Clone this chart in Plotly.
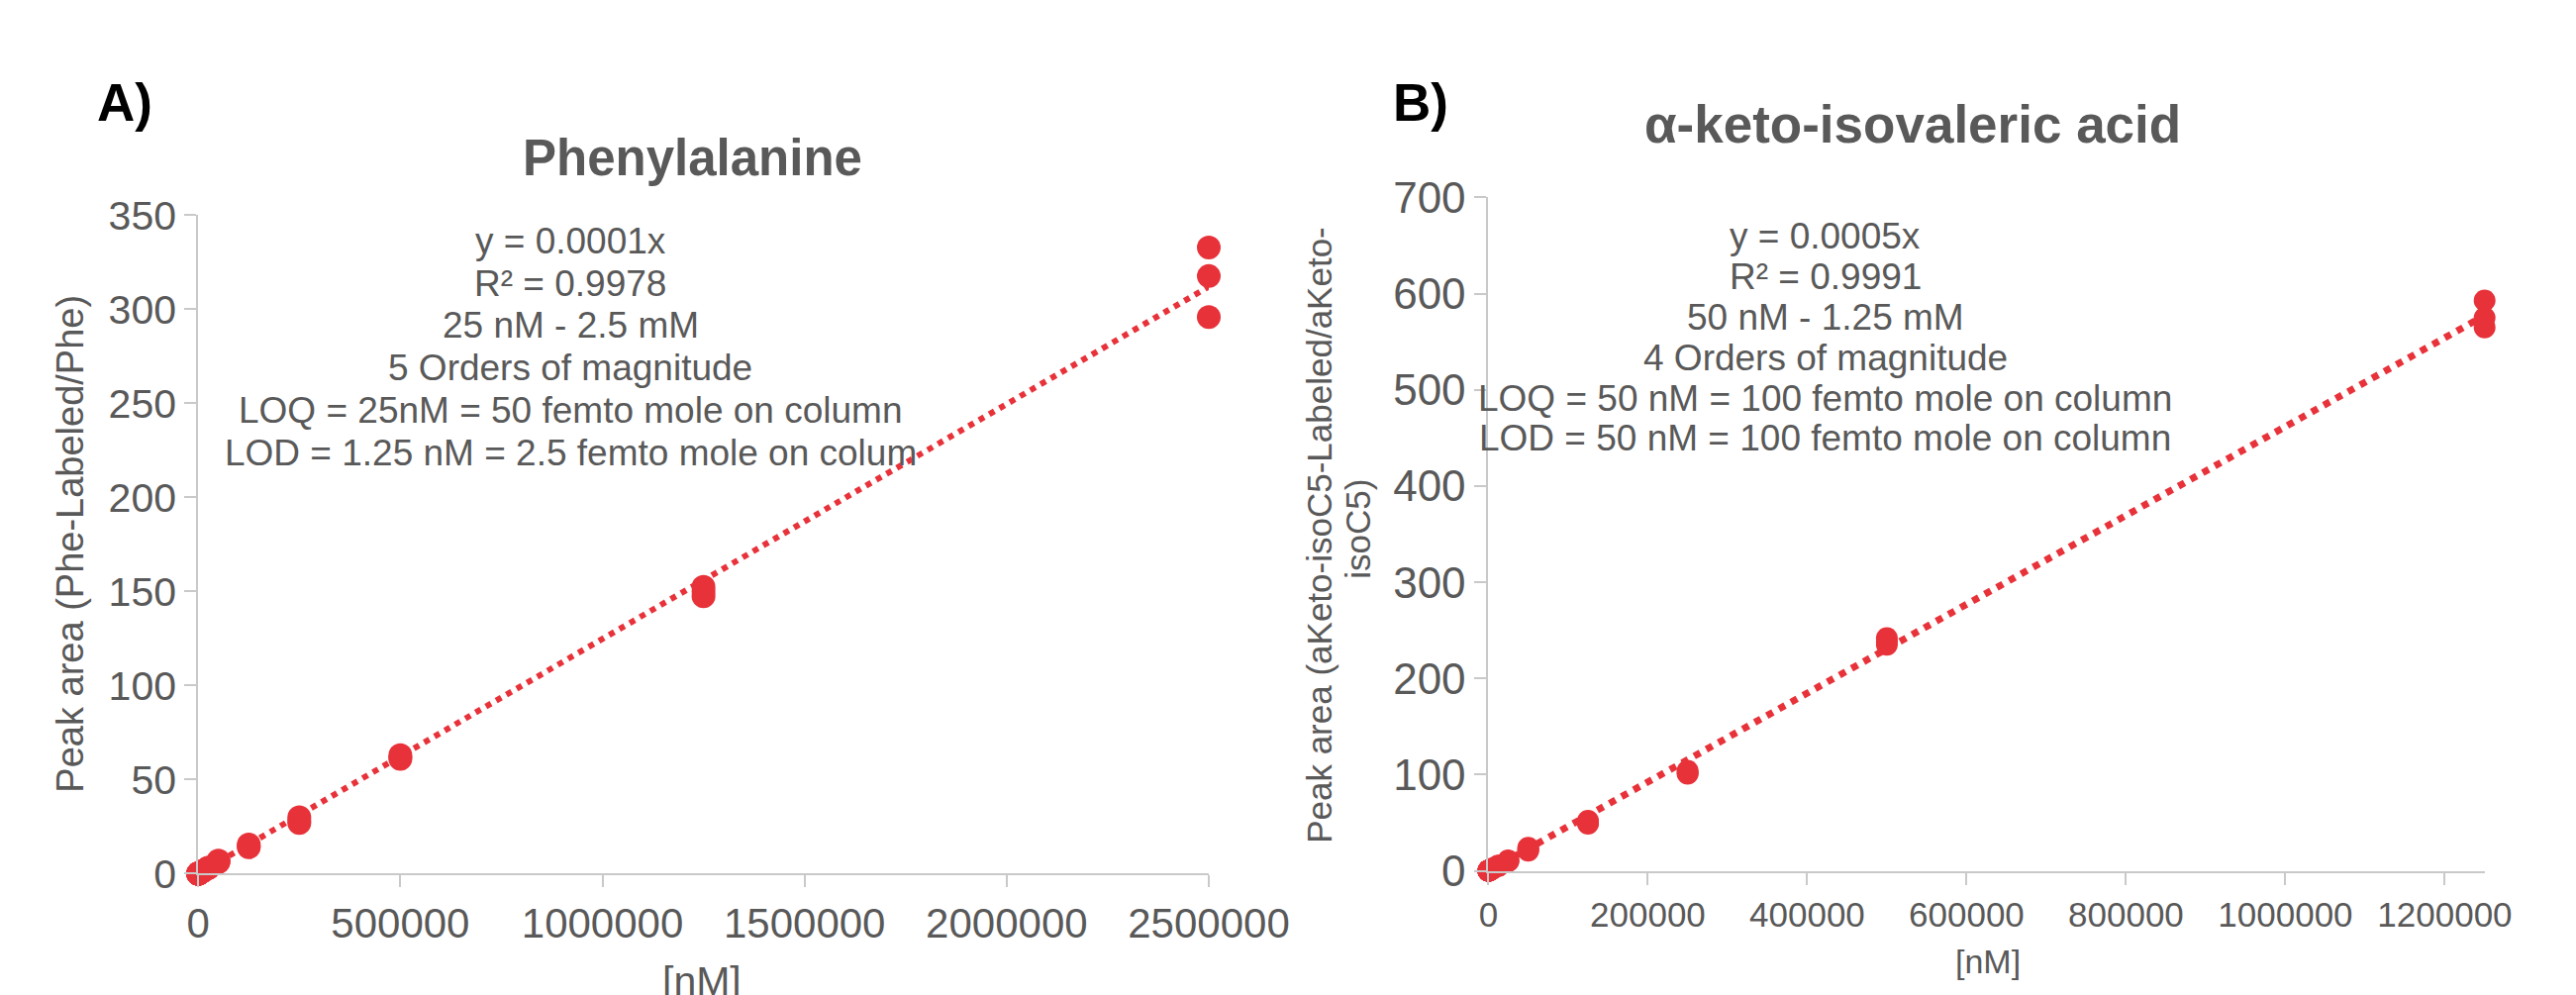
import plotly.graph_objects as go

W, H = 2602, 1005

# ---------------- data ----------------
# Panel A: Phenylalanine (nM vs peak-area ratio, three replicates)
phe_conc = [25, 50, 125, 250, 500, 1250, 2500, 5000, 12500, 25000,
            50000, 125000, 250000, 500000, 1250000, 2500000]
phe_rep1 = [0.003, 0.006, 0.016, 0.031, 0.063, 0.16, 0.32, 0.64, 1.6, 3.2,
            7.0, 15.5, 30.0, 63.0, 152.5, 332.8]
phe_rep2 = [0.003, 0.006, 0.015, 0.030, 0.061, 0.15, 0.31, 0.62, 1.5, 3.1,
            6.5, 14.6, 28.3, 62.0, 150.0, 317.6]
phe_rep3 = [0.003, 0.006, 0.015, 0.030, 0.060, 0.15, 0.30, 0.60, 1.5, 3.0,
            6.2, 14.0, 27.0, 61.0, 147.5, 295.8]

# Panel B: alpha-keto-isovaleric acid
kiv_conc = [50, 125, 250, 500, 1250, 2500, 5000, 12500, 25000,
            50000, 125000, 250000, 500000, 1250000]
kiv_rep1 = [0.024, 0.06, 0.12, 0.24, 0.6, 1.2, 2.4, 5.5, 11.0,
            24.0, 52.0, 104.0, 242.0, 593.0]
kiv_rep2 = [0.023, 0.058, 0.115, 0.23, 0.58, 1.15, 2.3, 5.2, 10.5,
            22.0, 50.0, 102.0, 238.0, 575.0]
kiv_rep3 = [0.022, 0.056, 0.11, 0.22, 0.56, 1.1, 2.2, 5.0, 10.0,
            21.0, 49.0, 101.0, 235.0, 565.0]

xticks_A = [0, 500000, 1000000, 1500000, 2000000, 2500000]
yticks_A = [0, 50, 100, 150, 200, 250, 300, 350]
xticks_B = [0, 200000, 400000, 600000, 800000, 1000000, 1200000]
yticks_B = [0, 100, 200, 300, 400, 500, 600, 700]

title_A = "Phenylalanine"
title_B = "α-keto-isovaleric acid"
ytitle_A = "Peak area (Phe-Labeled/Phe)"
ytitle_B = ["Peak area (aKeto-isoC5-Labeled/aKeto-", "isoC5)"]
xtitle = "[nM]"
notes_A = ["y = 0.0001x", "R² = 0.9978", "25 nM - 2.5 mM", "5 Orders of magnitude",
           "LOQ = 25nM = 50 femto mole on column",
           "LOD = 1.25 nM = 2.5 femto mole on colum"]
notes_B = ["y = 0.0005x", "R² = 0.9991", "50 nM - 1.25 mM", "4 Orders of magnitude",
           "LOQ = 50 nM = 100 femto mole on column",
           "LOD = 50 nM = 100 femto mole on column"]

# ---------------- helpers ----------------
RED = "#E8323A"
GREY = "#595959"
AXC = "#C9C9C9"
FONT = "Liberation Sans, Arial, sans-serif"


def flat(conc, *reps):
    xs, ys = [], []
    for r in reps:
        xs += conc
        ys += r
    return xs, ys


def fit_origin(xs, ys):
    return sum(a * b for a, b in zip(xs, ys)) / sum(a * a for a in xs)


def pxx(x):
    return x / W


def pxy(y):
    return 1 - y / H


xa, ya = flat(phe_conc, phe_rep1, phe_rep2, phe_rep3)
xb, yb = flat(kiv_conc, kiv_rep1, kiv_rep2, kiv_rep3)
sa = fit_origin(xa, ya)
sb = fit_origin(xb, yb)
trend_xa = [0, max(phe_conc)]
trend_xb = [0, max(kiv_conc)]

fig = go.Figure()
fig.add_trace(go.Scatter(x=xa, y=ya, mode="markers", xaxis="x", yaxis="y",
                         marker=dict(size=24, color=RED), cliponaxis=False,
                         showlegend=False))
fig.add_trace(go.Scatter(x=trend_xa, y=[sa * v for v in trend_xa], mode="lines",
                         xaxis="x", yaxis="y", line=dict(color=RED, width=6, dash="dot"),
                         cliponaxis=False, showlegend=False))
fig.add_trace(go.Scatter(x=xb, y=yb, mode="markers", xaxis="x2", yaxis="y2",
                         marker=dict(size=22, color=RED), cliponaxis=False,
                         showlegend=False))
fig.add_trace(go.Scatter(x=trend_xb, y=[sb * v for v in trend_xb], mode="lines",
                         xaxis="x2", yaxis="y2", line=dict(color=RED, width=7, dash="dot"),
                         cliponaxis=False, showlegend=False))

axis_common = dict(showline=True, linecolor=AXC, linewidth=2, ticks="outside",
                   ticklen=12, tickwidth=2, tickcolor=AXC, showgrid=False,
                   zeroline=False, tickformat="d", fixedrange=True)

fig.update_layout(
    width=W, height=H,
    margin=dict(l=0, r=0, t=0, b=0),
    paper_bgcolor="white", plot_bgcolor="white",
    font=dict(family=FONT, color=GREY),
    xaxis=dict(domain=[pxx(187), pxx(1246)], range=[0, 2500000], anchor="y",
               tickvals=xticks_A, tickfont=dict(size=42, color=GREY), **axis_common),
    yaxis=dict(domain=[pxy(893), pxy(193.75)], range=[0, 350], anchor="x",
               tickvals=yticks_A, tickfont=dict(size=41, color=GREY), **axis_common),
    xaxis2=dict(domain=[pxx(1539), pxx(2583)], range=[0, 1250000], anchor="y2",
                tickvals=xticks_B, tickfont=dict(size=35, color=GREY), **axis_common),
    yaxis2=dict(domain=[pxy(890), pxy(175)], range=[0, 700], anchor="x2",
                tickvals=yticks_B, tickfont=dict(size=44, color=GREY), **axis_common),
)

ann = []


def add(text, x, y, size, bold=False, color=GREY, angle=0, xanchor="center", yanchor="middle"):
    ann.append(dict(text=f"<b>{text}</b>" if bold else text, x=pxx(x), y=pxy(y),
                    xref="paper", yref="paper", showarrow=False, textangle=angle,
                    xanchor=xanchor, yanchor=yanchor,
                    font=dict(family=FONT, size=size, color=color)))


add("A)", 110, 74, 53, bold=True, color="black")
add("B)", 1468, 74, 53, bold=True, color="black")
add(title_A, 705, 133, 51, bold=True)
add(title_B, 1984, 97, 53, bold=True)
add(ytitle_A, 52, 543, 38, angle=-90)
add(ytitle_B[0], 1361, 533, 35, angle=-90)
add(ytitle_B[1], 1402, 527, 35, angle=-90)
add(xtitle, 715, 981, 41, yanchor="top")
add(xtitle, 2062, 986, 34)
for i, t in enumerate(notes_A):
    add(t, 577, 221 + 45 * i, 37)
for i, t in enumerate(notes_B):
    add(t, 1892, 216 + 43 * i, 37)

fig.update_layout(annotations=ann)
fig.write_html("out.html")
